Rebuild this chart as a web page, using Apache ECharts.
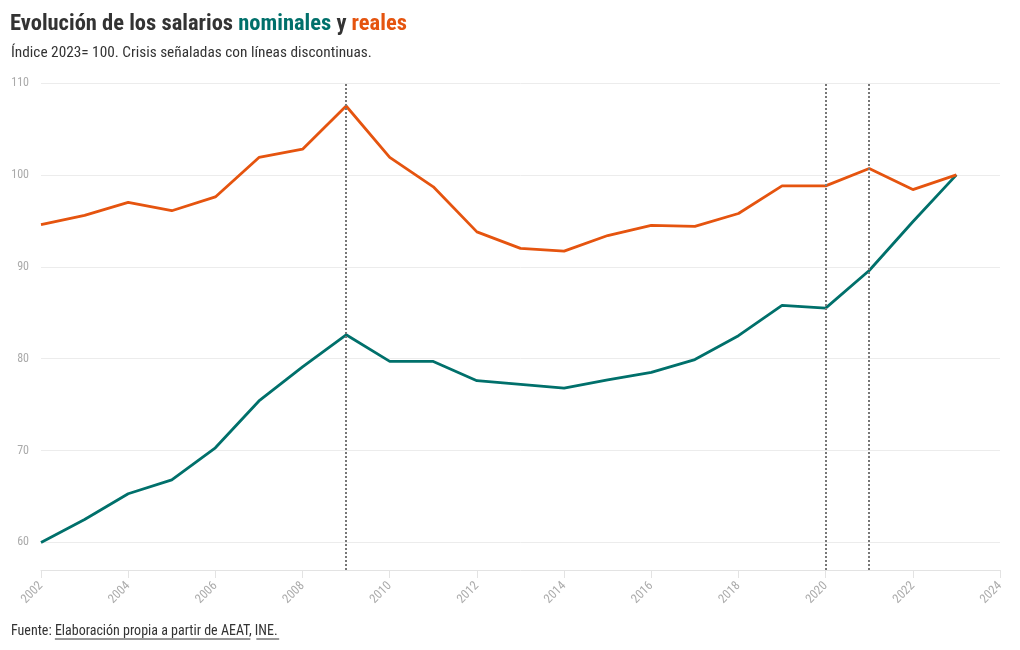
<!DOCTYPE html>
<html>
<head>
<meta charset="utf-8">
<script src="https://cdn.jsdelivr.net/npm/echarts@6/dist/echarts.min.js"></script>
<style>
html,body{margin:0;padding:0;background:#fff;}
#chart{width:1020px;height:650px;}
</style>
</head>
<body>
<div id="chart"></div>
<script>
const years = [2002,2003,2004,2005,2006,2007,2008,2009,2010,2011,2012,2013,2014,2015,2016,2017,2018,2019,2020,2021,2022,2023];
const nominales = [60.0,62.5,65.3,66.8,70.3,75.4,79.1,82.6,79.7,79.7,77.6,77.2,76.8,77.7,78.5,79.9,82.5,85.8,85.5,89.6,94.9,100.0];
const reales = [94.6,95.6,97.0,96.1,97.6,101.9,102.8,107.5,101.9,98.7,93.8,92.0,91.7,93.4,94.5,94.4,95.8,98.8,98.8,100.7,98.4,100.0];
const crisisYears = [2009,2020,2021];
const yTicks = [60,70,80,90,100,110];
const titleMain = 'Evolución de los salarios ';
const titleNom = 'nominales';
const titleY = ' y ';
const titleReal = 'reales';
const subtitle = 'Índice 2023= 100. Crisis señaladas con líneas discontinuas.';
const sourceLabel = 'Fuente: ';
const sourceParts = ['Elaboración propia a partir de AEAT', ', ', 'INE.'];

const FONT = '"Roboto Condensed","Liberation Sans Narrow","DejaVu Sans Condensed",Roboto,sans-serif';
const TEAL = '#00706b';
const ORANGE = '#e5540f';

const chart = echarts.init(document.getElementById('chart'), null, {renderer:'canvas'});

// measure footer text widths for underline
const cv = document.createElement('canvas').getContext('2d');
cv.font = '14px ' + FONT;
const wLabel = cv.measureText(sourceLabel).width;
const w1 = cv.measureText(sourceParts[0]).width;
const w2 = cv.measureText(sourceParts[1]).width;
const w3 = cv.measureText(sourceParts[2]).width;
const fx = 11, fy = 639;

chart.setOption({
  backgroundColor:'#fff',
  animation:false,
  textStyle:{fontFamily:FONT},
  title:[{
    left:10, top:13, padding:0,
    text:'{a|'+titleMain+'}{n|'+titleNom+'}{a|'+titleY+'}{r|'+titleReal+'}',
    textStyle:{rich:{
      a:{fontFamily:FONT,fontSize:22.5,fontWeight:'bold',color:'#333'},
      n:{fontFamily:FONT,fontSize:22.5,fontWeight:'bold',color:TEAL},
      r:{fontFamily:FONT,fontSize:22.5,fontWeight:'bold',color:ORANGE}
    }}
  },{
    left:11, top:46, padding:0,
    text:subtitle,
    textStyle:{fontFamily:FONT,fontSize:15.3,fontWeight:'normal',color:'#333'}
  }],
  graphic:[
    {type:'text', left:fx, top:624, style:{text:sourceLabel+sourceParts[0]+sourceParts[1]+sourceParts[2], font:'14px '+FONT, fill:'#333'}},
    {type:'line', shape:{x1:fx+wLabel, y1:fy, x2:fx+wLabel+w1, y2:fy}, style:{stroke:'#333', lineWidth:1}},
    {type:'line', shape:{x1:fx+wLabel+w1+w2, y1:fy, x2:fx+wLabel+w1+w2+w3, y2:fy}, style:{stroke:'#333', lineWidth:1}}
  ],
  grid:{left:41, right:20, top:83, bottom:80, containLabel:false},
  xAxis:{
    type:'value', min:2002, max:2024, interval:2,
    axisLine:{show:true, lineStyle:{color:'#e3e3e3', width:1}},
    axisTick:{show:true, length:8, lineStyle:{color:'#e3e3e3'}},
    splitLine:{show:false},
    axisLabel:{rotate:45, color:'#aaa', fontSize:12.5, fontFamily:FONT, margin:14, formatter:v=>String(v)}
  },
  yAxis:{
    type:'value', min:57, max:110,
    axisLine:{show:false},
    axisTick:{show:false, customValues:yTicks},
    axisLabel:{color:'#aaa', fontSize:12, fontFamily:FONT, margin:12, customValues:yTicks},
    splitLine:{show:true, lineStyle:{color:'#ececec', width:1}}
  },
  series:[{
    name:'nominales', type:'line', data:years.map((y,i)=>[y,nominales[i]]),
    showSymbol:false, symbol:'none', lineStyle:{color:TEAL, width:2.8}, itemStyle:{color:TEAL}, z:3,
    markLine:{
      silent:true, symbol:['none','none'], label:{show:false},
      lineStyle:{color:'#777', type:[2,2], width:2},
      data:crisisYears.map(y=>({xAxis:y}))
    }
  },{
    name:'reales', type:'line', data:years.map((y,i)=>[y,reales[i]]),
    showSymbol:false, symbol:'none', lineStyle:{color:ORANGE, width:2.8}, itemStyle:{color:ORANGE}, z:3
  }]
});
</script>
</body>
</html>
